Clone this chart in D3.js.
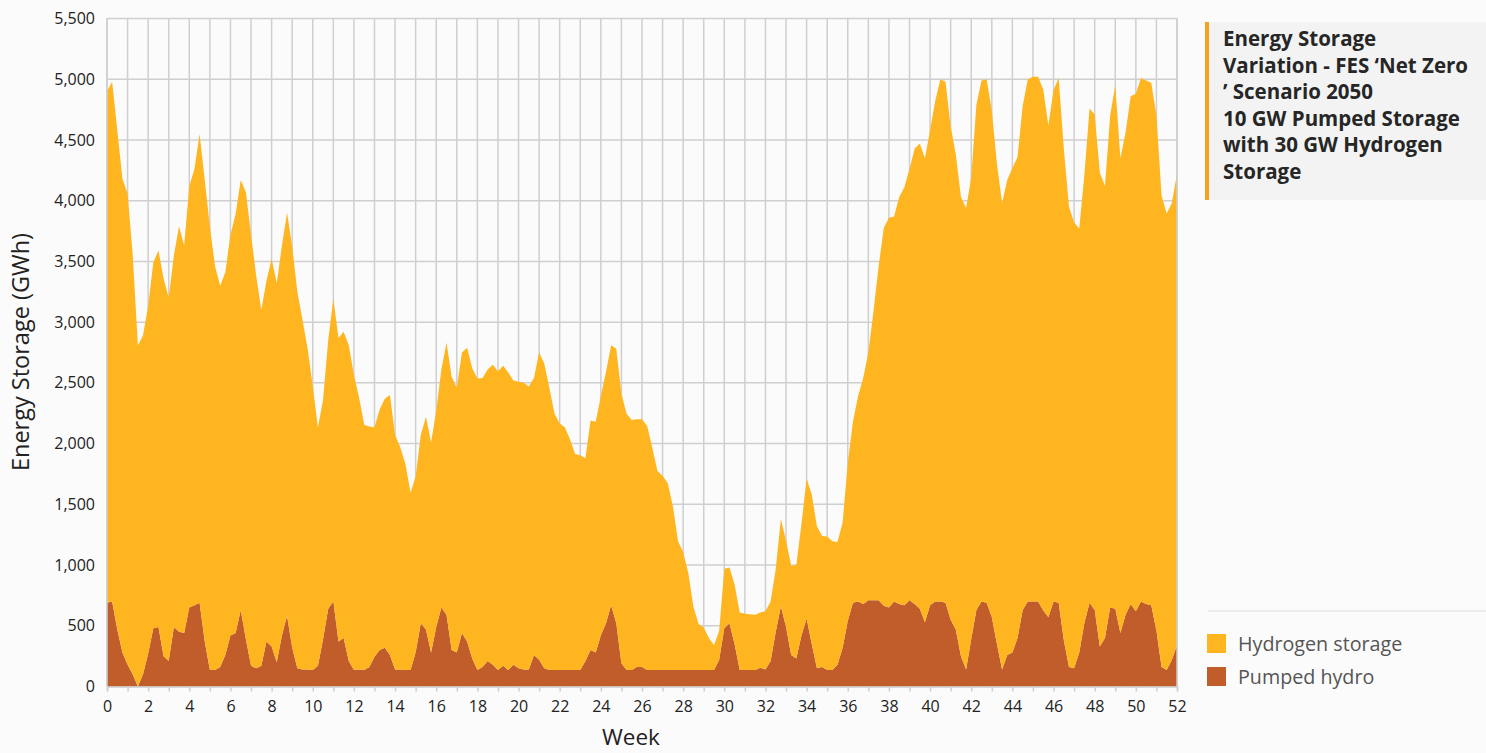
<!DOCTYPE html>
<html>
<head>
<meta charset="utf-8">
<script src="https://cdn.jsdelivr.net/npm/d3@7"></script>
<style>
  html, body { margin: 0; padding: 0; background: #fbfbfb; }
  svg { display: block; font-family: "Open Sans", "Noto Sans", sans-serif; }
</style>
</head>
<body>
<svg id="chart" width="1486" height="753"></svg>
<script>
// ---- Data (0.25-week steps) ----
const weekStep = 0.25;
const pumpedHydro = [
  690, 700, 470, 280,   180, 100, 0, 100,     270, 480, 490, 250,   210, 490, 450, 440,
  650, 670, 690, 370,   135, 135, 160, 260,   420, 440, 630, 390,   170, 150, 170, 370,
  330, 200, 420, 580,   320, 150, 140, 140,   135, 170, 390, 640,   700, 370, 400, 210,
  135, 140, 135, 160,   245, 300, 320, 260,   140, 140, 135, 135,   280, 520, 470, 280,
  490, 650, 590, 300,   280, 440, 370, 230,   135, 160, 210, 180,   135, 170, 135, 180,
  150, 140, 140, 260,   220, 150, 135, 135,   135, 135, 135, 135,   135, 210, 300, 280,
  420, 520, 670, 520,   190, 135, 135, 160,   160, 135, 135, 135,   135, 135, 135, 135,
  135, 135, 135, 135,   135, 135, 135, 220,   480, 520, 350, 135,   135, 135, 135, 155,
  140, 210, 450, 660,   490, 260, 230, 420,   560, 350, 150, 160,   135, 135, 180, 320,
  540, 690, 700, 680,   710, 710, 710, 665,   650, 700, 680, 670,   710, 680, 640, 530,
  670, 700, 700, 690,   550, 470, 250, 140,   390, 630, 700, 690,   570, 350, 140, 260,
  280, 400, 630, 700,   700, 700, 625, 570,   700, 690, 380, 160,   150, 280, 525, 690,
  630, 330, 400, 650,   640, 440, 590, 680,   620, 700, 680, 670,   460, 160, 135, 220,
  340
];
const hydrogenStorage = [
  4210, 4280, 4110, 3900,   3880, 3450, 2810, 2790,   2860, 3010, 3100, 3110,   2990, 3060, 3340, 3190,
  3470, 3590, 3860, 3800,   3650, 3325, 3140, 3150,   3300, 3450, 3540, 3680,   3550, 3230, 2930, 2970,
  3190, 3120, 3210, 3320,   3300, 3100, 2880, 2640,   2340, 1960, 1970, 2210,   2490, 2500, 2520, 2600,
  2430, 2240, 2020, 1980,   1890, 1980, 2050, 2140,   1930, 1830, 1700, 1460,   1450, 1550, 1750, 1730,
  1780, 1960, 2240, 2250,   2180, 2310, 2420, 2390,   2400, 2380, 2400, 2470,   2460, 2470, 2450, 2340,
  2360, 2360, 2330, 2280,   2530, 2510, 2320, 2110,   2030, 2000, 1900, 1780,   1770, 1670, 1890, 1900,
  1970, 2070, 2140, 2260,   2220, 2110, 2060, 2040,   2040, 2010, 1830, 1640,   1600, 1540, 1350, 1060,
  970, 800, 520, 380,       350, 265, 205, 240,       490, 460, 490, 475,       465, 460, 455, 455,
  480, 490, 520, 720,       710, 735, 770, 920,       1150, 1230, 1170, 1080,   1100, 1060, 1010, 1030,
  1300, 1490, 1690, 1860,   2040, 2380, 2750, 3110,   3210, 3170, 3350, 3440,   3550, 3750, 3830, 3820,
  3910, 4120, 4300, 4290,   4060, 3910, 3780, 3800,   3800, 4160, 4290, 4310,   4170, 3950, 3840, 3910,
  3990, 3960, 4150, 4300,   4320, 4320, 4290, 4050,   4210, 4320, 4050, 3790,   3670, 3490, 3690, 4070,
  4080, 3900, 3720, 4050,   4310, 3910, 3970, 4180,   4260, 4310, 4310, 4300,   4240, 3880, 3760, 3760,
  3880
];
const seriesNames = ["Pumped hydro", "Hydrogen storage"];
const xTickLabels = [0,2,4,6,8,10,12,14,16,18,20,22,24,26,28,30,32,34,36,38,40,42,44,46,48,50,52];
const yTickLabels = [0,500,1000,1500,2000,2500,3000,3500,4000,4500,5000,5500];
const titleLines = ["Energy Storage", "Variation - FES \u2018Net Zero", "\u2019 Scenario 2050", "10 GW Pumped Storage", "with 30 GW Hydrogen", "Storage"];
const legendItems = ["Hydrogen storage", "Pumped hydro"];

(function () {
// ---- Build table ----
const rows = pumpedHydro.map((p, i) => ({ week: i * weekStep, "Pumped hydro": p, "Hydrogen storage": hydrogenStorage[i] }));
const stacked = d3.stack().keys(seriesNames)(rows);

const colors = { "Hydrogen storage": "#FEB520", "Pumped hydro": "#C05D2A" };

const svg = d3.select("#chart");
const pLeft = 107, pRight = 1177, pTop = 18.5, pBottom = 686.5;

const x = d3.scaleLinear().domain([0, 52]).range([pLeft, pRight]);
const y = d3.scaleLinear().domain([0, 5500]).range([pBottom, pTop]);

// gridlines
const grid = svg.append("g");
grid.selectAll("line.v").data(d3.range(0, 53)).join("line").attr("class", "v")
  .attr("x1", d => x(d)).attr("x2", d => x(d)).attr("y1", pTop).attr("y2", pBottom)
  .attr("stroke", "#cfcfcf").attr("stroke-width", 1.5);
grid.selectAll("line.h").data(yTickLabels).join("line").attr("class", "h")
  .attr("x1", pLeft).attr("x2", pRight).attr("y1", d => y(d)).attr("y2", d => y(d))
  .attr("stroke", "#cfcfcf").attr("stroke-width", 1.5);

// areas
const area = d3.area().x(d => x(d.data.week)).y0(d => y(d[0])).y1(d => y(d[1])).curve(d3.curveLinear);
svg.append("g").selectAll("path").data(stacked).join("path")
  .attr("d", area).attr("fill", d => colors[d.key]);

// frame (left/right)
svg.append("line").attr("x1", pLeft).attr("x2", pLeft).attr("y1", pTop).attr("y2", pBottom).attr("stroke", "#cfcfcf").attr("stroke-width", 1.5);
svg.append("line").attr("x1", pRight).attr("x2", pRight).attr("y1", pTop).attr("y2", pBottom).attr("stroke", "#cfcfcf").attr("stroke-width", 1.5);

// x axis
const xAxis = d3.axisBottom(x).tickValues(d3.range(0, 53)).tickSize(5).tickFormat(d => xTickLabels.includes(d) ? d : "");
const gx = svg.append("g").attr("transform", `translate(0,${pBottom})`).call(xAxis);
gx.select(".domain").attr("stroke", "#cfcfcf").attr("stroke-width", 1.5);
gx.selectAll(".tick line").attr("stroke", "#cfcfcf").attr("stroke-width", 1.5);
gx.selectAll(".tick text").attr("font-size", 16).attr("fill", "#222").attr("dy", "1.1em")
  .attr("font-family", "'Open Sans', sans-serif");

// y axis
const yAxis = d3.axisLeft(y).tickValues(yTickLabels).tickSize(0).tickPadding(12).tickFormat(d3.format(","));
const gy = svg.append("g").attr("transform", `translate(${pLeft},0)`).call(yAxis);
gy.select(".domain").remove();
gy.selectAll(".tick text").attr("font-size", 16).attr("fill", "#222")
  .attr("font-family", "'Open Sans', sans-serif");

// axis titles
svg.append("text").attr("x", 631).attr("y", 745).attr("text-anchor", "middle")
  .attr("font-size", 22.5).attr("fill", "#222").text("Week");
svg.append("text").attr("transform", "translate(29,352) rotate(-90)").attr("text-anchor", "middle")
  .attr("font-size", 23.5).attr("fill", "#222").text("Energy Storage (GWh)");

// title box
svg.append("rect").attr("x", 1205).attr("y", 22).attr("width", 281).attr("height", 178).attr("fill", "#f3f3f3");
svg.append("rect").attr("x", 1205).attr("y", 22).attr("width", 4).attr("height", 178).attr("fill", "#F7A21B");
const tt = svg.append("text").attr("font-size", 20.5).attr("font-weight", "bold").attr("fill", "#262626");
titleLines.forEach((t, i) => tt.append("tspan").attr("x", 1223).attr("y", 46 + i * 26.5).text(t));

// legend
svg.append("line").attr("x1", 1208).attr("x2", 1486).attr("y1", 611).attr("y2", 611).attr("stroke", "#dddddd").attr("stroke-width", 1);
const lg = svg.append("g").selectAll("g").data(legendItems).join("g")
  .attr("transform", (d, i) => `translate(1207,${634 + i * 33})`);
lg.append("rect").attr("width", 19).attr("height", 19).attr("fill", d => colors[d]);
lg.append("text").attr("x", 31).attr("y", 16.5).attr("font-size", 19.7).attr("fill", "#555").text(d => d);
})();
</script>
</body>
</html>
